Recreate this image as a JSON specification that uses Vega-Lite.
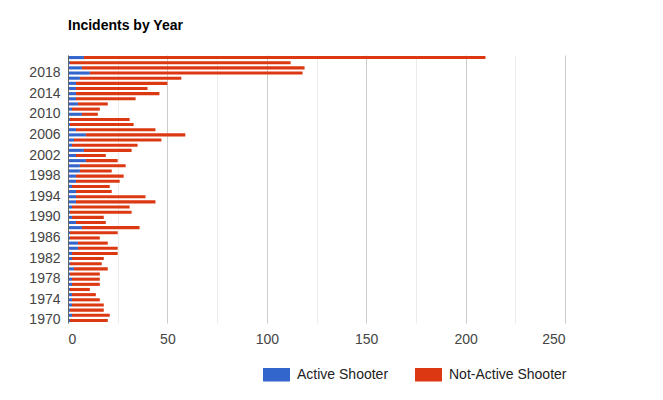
{
  "$schema": "https://vega.github.io/schema/vega-lite/v6.json",
  "width": 497,
  "height": 268,
  "autosize": {"type": "none"},
  "padding": {"left": 68, "top": 55, "right": 98, "bottom": 77},
  "background": "white",
  "title": {"text": "Incidents by Year", "anchor": "start", "font": "Liberation Sans", "fontSize": 14, "fontWeight": "bold", "color": "#000", "offset": 17, "frame": "group"},
  "data": {"values": [
    {"year":2021,"type":"Active Shooter","n":8},{"year":2021,"type":"Not-Active Shooter","n":202},
    {"year":2020,"type":"Active Shooter","n":1},{"year":2020,"type":"Not-Active Shooter","n":111},
    {"year":2019,"type":"Active Shooter","n":7},{"year":2019,"type":"Not-Active Shooter","n":112},
    {"year":2018,"type":"Active Shooter","n":11},{"year":2018,"type":"Not-Active Shooter","n":107},
    {"year":2017,"type":"Active Shooter","n":6},{"year":2017,"type":"Not-Active Shooter","n":51},
    {"year":2016,"type":"Active Shooter","n":4},{"year":2016,"type":"Not-Active Shooter","n":46},
    {"year":2015,"type":"Active Shooter","n":4},{"year":2015,"type":"Not-Active Shooter","n":36},
    {"year":2014,"type":"Active Shooter","n":4},{"year":2014,"type":"Not-Active Shooter","n":42},
    {"year":2013,"type":"Active Shooter","n":4},{"year":2013,"type":"Not-Active Shooter","n":30},
    {"year":2012,"type":"Active Shooter","n":5},{"year":2012,"type":"Not-Active Shooter","n":15},
    {"year":2011,"type":"Active Shooter","n":2},{"year":2011,"type":"Not-Active Shooter","n":14},
    {"year":2010,"type":"Active Shooter","n":7},{"year":2010,"type":"Not-Active Shooter","n":8},
    {"year":2009,"type":"Active Shooter","n":1},{"year":2009,"type":"Not-Active Shooter","n":30},
    {"year":2008,"type":"Active Shooter","n":1},{"year":2008,"type":"Not-Active Shooter","n":32},
    {"year":2007,"type":"Active Shooter","n":4},{"year":2007,"type":"Not-Active Shooter","n":40},
    {"year":2006,"type":"Active Shooter","n":9},{"year":2006,"type":"Not-Active Shooter","n":50},
    {"year":2005,"type":"Active Shooter","n":3},{"year":2005,"type":"Not-Active Shooter","n":44},
    {"year":2004,"type":"Active Shooter","n":2},{"year":2004,"type":"Not-Active Shooter","n":33},
    {"year":2003,"type":"Active Shooter","n":8},{"year":2003,"type":"Not-Active Shooter","n":24},
    {"year":2002,"type":"Active Shooter","n":4},{"year":2002,"type":"Not-Active Shooter","n":15},
    {"year":2001,"type":"Active Shooter","n":9},{"year":2001,"type":"Not-Active Shooter","n":16},
    {"year":2000,"type":"Active Shooter","n":6},{"year":2000,"type":"Not-Active Shooter","n":23},
    {"year":1999,"type":"Active Shooter","n":6},{"year":1999,"type":"Not-Active Shooter","n":16},
    {"year":1998,"type":"Active Shooter","n":4},{"year":1998,"type":"Not-Active Shooter","n":24},
    {"year":1997,"type":"Active Shooter","n":4},{"year":1997,"type":"Not-Active Shooter","n":22},
    {"year":1996,"type":"Active Shooter","n":2},{"year":1996,"type":"Not-Active Shooter","n":19},
    {"year":1995,"type":"Active Shooter","n":4},{"year":1995,"type":"Not-Active Shooter","n":18},
    {"year":1994,"type":"Active Shooter","n":4},{"year":1994,"type":"Not-Active Shooter","n":35},
    {"year":1993,"type":"Active Shooter","n":4},{"year":1993,"type":"Not-Active Shooter","n":40},
    {"year":1992,"type":"Active Shooter","n":2},{"year":1992,"type":"Not-Active Shooter","n":29},
    {"year":1991,"type":"Active Shooter","n":1},{"year":1991,"type":"Not-Active Shooter","n":31},
    {"year":1990,"type":"Active Shooter","n":2},{"year":1990,"type":"Not-Active Shooter","n":16},
    {"year":1989,"type":"Active Shooter","n":4},{"year":1989,"type":"Not-Active Shooter","n":15},
    {"year":1988,"type":"Active Shooter","n":7},{"year":1988,"type":"Not-Active Shooter","n":29},
    {"year":1987,"type":"Active Shooter","n":1},{"year":1987,"type":"Not-Active Shooter","n":24},
    {"year":1986,"type":"Active Shooter","n":1},{"year":1986,"type":"Not-Active Shooter","n":15},
    {"year":1985,"type":"Active Shooter","n":5},{"year":1985,"type":"Not-Active Shooter","n":15},
    {"year":1984,"type":"Active Shooter","n":5},{"year":1984,"type":"Not-Active Shooter","n":20},
    {"year":1983,"type":"Active Shooter","n":2},{"year":1983,"type":"Not-Active Shooter","n":23},
    {"year":1982,"type":"Active Shooter","n":2},{"year":1982,"type":"Not-Active Shooter","n":16},
    {"year":1981,"type":"Active Shooter","n":1},{"year":1981,"type":"Not-Active Shooter","n":16},
    {"year":1980,"type":"Active Shooter","n":3},{"year":1980,"type":"Not-Active Shooter","n":17},
    {"year":1979,"type":"Active Shooter","n":1},{"year":1979,"type":"Not-Active Shooter","n":15},
    {"year":1978,"type":"Active Shooter","n":2},{"year":1978,"type":"Not-Active Shooter","n":14},
    {"year":1977,"type":"Active Shooter","n":2},{"year":1977,"type":"Not-Active Shooter","n":14},
    {"year":1976,"type":"Active Shooter","n":1},{"year":1976,"type":"Not-Active Shooter","n":10},
    {"year":1975,"type":"Active Shooter","n":2},{"year":1975,"type":"Not-Active Shooter","n":12},
    {"year":1974,"type":"Active Shooter","n":2},{"year":1974,"type":"Not-Active Shooter","n":14},
    {"year":1973,"type":"Active Shooter","n":2},{"year":1973,"type":"Not-Active Shooter","n":16},
    {"year":1972,"type":"Active Shooter","n":1},{"year":1972,"type":"Not-Active Shooter","n":17},
    {"year":1971,"type":"Active Shooter","n":2},{"year":1971,"type":"Not-Active Shooter","n":19},
    {"year":1970,"type":"Active Shooter","n":1},{"year":1970,"type":"Not-Active Shooter","n":19}
  ]},
  "mark": {"type": "bar"},
  "encoding": {
    "y": {
      "field": "year", "type": "ordinal", "sort": "descending",
      "scale": {"paddingInner": 0.4, "paddingOuter": 0.2},
      "axis": {
        "title": null, "ticks": false, "domain": true, "domainColor": "#666", "domainWidth": 1,
        "labelExpr": "(datum.value - 1970) % 4 === 0 ? datum.label : ''",
        "labelFont": "Liberation Sans", "labelFontSize": 14, "labelColor": "#444", "labelPadding": 8,
        "zindex": 1
      }
    },
    "x": {
      "field": "n", "type": "quantitative", "stack": "zero",
      "scale": {"domain": [0, 250], "nice": false},
      "axis": {
        "title": null, "values": [0,25,50,75,100,125,150,175,200,225,250],
        "labelExpr": "datum.value % 50 === 0 ? datum.label : ''",
        "ticks": false, "domain": false, "labelPadding": 9,
        "labelFont": "Liberation Sans", "labelFontSize": 14, "labelColor": "#444",
        "grid": true,
        "gridColor": {"condition": {"test": "datum.value % 50 === 0", "value": "#cccccc"}, "value": "#ebebeb"}
      }
    },
    "color": {
      "field": "type", "type": "nominal",
      "scale": {"domain": ["Active Shooter", "Not-Active Shooter"], "range": ["#3366cc", "#dc3912"]},
      "legend": {
        "title": null, "orient": "none", "direction": "horizontal",
        "legendX": 195, "legendY": 306,
        "symbolType": "M-1,-0.5H1V0.5H-1Z", "symbolSize": 729, "symbolStrokeWidth": 0,
        "labelFont": "Liberation Sans", "labelFontSize": 14, "labelColor": "#222",
        "columnPadding": 26, "labelOffset": 7
      }
    },
    "order": {"field": "type", "sort": "ascending"}
  },
  "config": {"view": {"stroke": null}}
}
